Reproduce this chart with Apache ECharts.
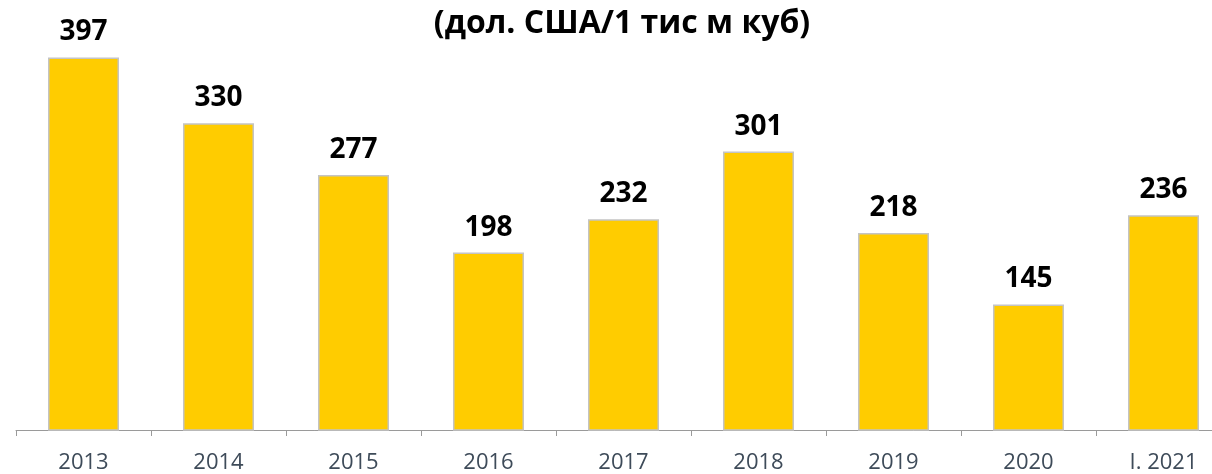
<!DOCTYPE html>
<html>
<head>
<meta charset="utf-8">
<script src="https://cdn.jsdelivr.net/npm/echarts@6/dist/echarts.min.js"></script>
<style>
  html, body { margin: 0; padding: 0; background: #ffffff; }
  #chart { width: 1212px; height: 474px; }
</style>
</head>
<body>
<div id="chart"></div>
<script>
// Price per 1000 cubic metres, USD
const categories = ['2013', '2014', '2015', '2016', '2017', '2018', '2019', '2020', 'I. 2021'];
const prices = [397, 330, 277, 198, 232, 301, 218, 145, 236];
const titleText = '(дол. США/1 тис м куб)';

const chart = echarts.init(document.getElementById('chart'), null, { renderer: 'canvas' });

chart.setOption({
  animation: false,
  backgroundColor: '#ffffff',
  title: {
    text: titleText,
    left: 617,
    textAlign: 'center',
    top: 3,
    textStyle: {
      fontFamily: 'Open Sans',
      fontWeight: 'bold',
      fontSize: 32,
      color: '#000000'
    }
  },
  grid: {
    left: 16,
    right: -19,
    top: 30,
    height: 400,
    outerBoundsMode: 'none',
    containLabel: false
  },
  xAxis: {
    type: 'category',
    data: categories,
    boundaryGap: true,
    axisLine: { show: true, lineStyle: { color: '#9a9a9a', width: 1 } },
    axisTick: { show: true, length: 6, alignWithLabel: false, lineStyle: { color: '#9a9a9a' } },
    axisLabel: {
      margin: 22,
      fontFamily: 'Open Sans',
      fontSize: 22,
      color: '#3e4b59',
      interval: 0
    }
  },
  yAxis: {
    type: 'value',
    min: 17,
    max: 425,
    show: false,
    splitLine: { show: false }
  },
  series: [{
    type: 'bar',
    data: prices,
    barWidth: 71,
    itemStyle: {
      color: '#FFCC00',
      borderColor: '#c4c4c4',
      borderWidth: 1.5
    },
    label: {
      show: true,
      position: 'top',
      distance: 11,
      fontFamily: 'Open Sans',
      fontWeight: 'bold',
      fontSize: 28,
      color: '#000000'
    }
  }]
});
</script>
</body>
</html>
